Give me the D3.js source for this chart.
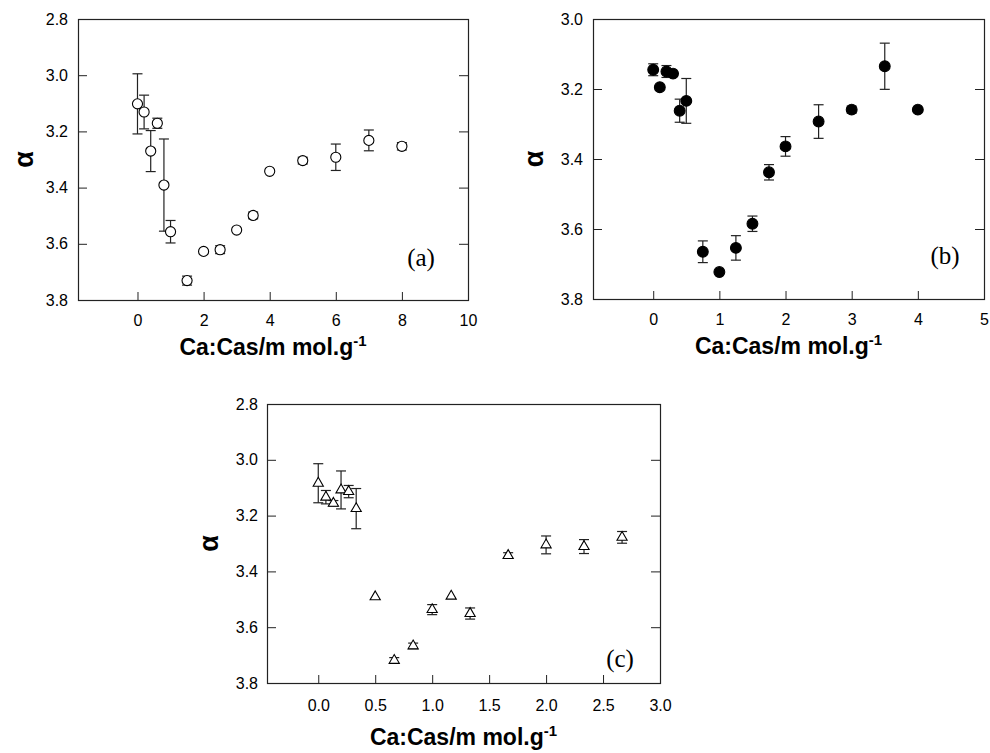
<!DOCTYPE html>
<html>
<head>
<meta charset="utf-8">
<script src="https://cdn.jsdelivr.net/npm/d3@7"></script>
<style>
  body { margin: 0; background: #fff; }
  svg { display: block; }
  .tick text { font-family: "Liberation Sans", Arial, sans-serif; font-size: 16px; fill: #000; }
  .tick line { stroke: #222; }
  .axisTitle { font-family: "Liberation Sans", Arial, sans-serif; font-weight: bold; font-size: 23px; fill: #000; }
  .alphaTitle { font-family: "Liberation Sans", Arial, sans-serif; font-weight: bold; font-size: 27px; fill: #000; }
  .panelTag { font-family: "Liberation Serif", "Times New Roman", serif; font-size: 25px; fill: #000; }
</style>
</head>
<body>
<div class="chart"></div>
<script>
// Panel (a): open circles
var aX = [0, 0.2, 0.4, 0.6, 0.8, 1.0, 1.5, 2, 2.5, 3, 3.5, 4, 5, 6, 7, 8];
var aY = [3.102, 3.131, 3.270, 3.171, 3.391, 3.557, 3.731, 3.627, 3.621, 3.551, 3.499, 3.342, 3.304, 3.292, 3.232, 3.253];
var aErr = [0.107, 0.06, 0.073, 0.018, 0.164, 0.04, 0.016, 0, 0.014, 0, 0.012, 0, 0.012, 0.047, 0.037, 0.013];

// Panel (b): filled circles
var bX = [0, 0.1, 0.2, 0.3, 0.4, 0.5, 0.75, 1.0, 1.25, 1.5, 1.75, 2, 2.5, 3, 3.5, 4];
var bY = [3.145, 3.195, 3.150, 3.156, 3.262, 3.234, 3.665, 3.723, 3.654, 3.585, 3.438, 3.364, 3.293, 3.259, 3.135, 3.259];
var bErr = [0.017, 0, 0.017, 0, 0.033, 0.064, 0.031, 0, 0.035, 0.022, 0.022, 0.028, 0.048, 0.01, 0.066, 0];

// Panel (c): open triangles
var cX = [0, 0.067, 0.133, 0.2, 0.267, 0.333, 0.5, 0.667, 0.833, 1.0, 1.167, 1.333, 1.667, 2.0, 2.333, 2.667];
var cY = [3.084, 3.134, 3.156, 3.108, 3.114, 3.175, 3.491, 3.719, 3.667, 3.537, 3.489, 3.551, 3.343, 3.305, 3.311, 3.278];
var cErr = [0.07, 0.024, 0.01, 0.068, 0.022, 0.072, 0, 0.01, 0.01, 0.018, 0, 0.02, 0.01, 0.032, 0.025, 0.021];

// tick values
var aXTicks = [0, 2, 4, 6, 8, 10];
var bXTicks = [0, 1, 2, 3, 4, 5];
var cXTicks = [0, 0.5, 1.0, 1.5, 2.0, 2.5, 3.0];
var yTicksFull = [2.8, 3.0, 3.2, 3.4, 3.6, 3.8];
var yTicksB = [3.0, 3.2, 3.4, 3.6, 3.8];

var xTitle = "Ca:Cas/m mol.g";
var yTitle = "\u03b1";

var svg = d3.select(".chart")
    .append("svg")
    .attr("width", 990)
    .attr("height", 753);

function drawPanel(p) {
    var w = p.right - p.left;
    var h = p.bottom - p.top;
    var g = svg.append("g").attr("transform", "translate(" + p.left + "," + p.top + ")");

    var x = d3.scaleLinear().domain(p.xDomain).range([0, w]);
    var y = d3.scaleLinear().domain(p.yDomain).range([0, h]);

    // axes, ticks pointing inside
    g.append("g")
        .attr("transform", "translate(0," + h + ")")
        .call(d3.axisBottom(x).tickValues(p.xTicks).tickSize(-8).tickPadding(p.xPad).tickFormat(d3.format(p.xFmt)))
        .call(function(s) { s.select(".domain").remove(); });
    g.append("g")
        .call(d3.axisLeft(y).tickValues(p.yTicks).tickSize(-9).tickPadding(p.yPad).tickFormat(d3.format(".1f")))
        .call(function(s) { s.select(".domain").remove(); });
    g.append("g")
        .attr("transform", "translate(" + w + ",0)")
        .call(d3.axisRight(y).tickValues(p.yTicks).tickSize(-9).tickFormat(""))
        .call(function(s) { s.select(".domain").remove(); });

    g.append("rect")
        .attr("x", 0.5).attr("y", 0.5)
        .attr("width", w).attr("height", h)
        .attr("fill", "none")
        .attr("stroke", "#222")
        .attr("stroke-width", 1.2);

    var data = p.xs.map(function(d, i) { return { x: d, y: p.ys[i], e: p.errs[i] }; });
    var withErr = data.filter(function(d) { return d.e > 0; });

    // error bars
    var eb = g.append("g").attr("stroke", "#222").attr("stroke-width", 1.2);
    eb.selectAll("line.v").data(withErr).enter().append("line")
        .attr("x1", function(d) { return x(d.x); })
        .attr("x2", function(d) { return x(d.x); })
        .attr("y1", function(d) { return y(d.y - d.e); })
        .attr("y2", function(d) { return y(d.y + d.e); });
    [-1, 1].forEach(function(sgn) {
        eb.selectAll("line.c" + (sgn + 1)).data(withErr).enter().append("line")
            .attr("x1", function(d) { return x(d.x) - 5; })
            .attr("x2", function(d) { return x(d.x) + 5; })
            .attr("y1", function(d) { return y(d.y + sgn * d.e); })
            .attr("y2", function(d) { return y(d.y + sgn * d.e); });
    });

    // markers
    g.selectAll("path.pt").data(data).enter().append("path")
        .attr("class", "pt")
        .attr("transform", function(d) { return "translate(" + x(d.x) + "," + y(d.y) + ")"; })
        .attr("d", d3.symbol().type(p.symbol).size(p.symSize))
        .attr("fill", p.fill)
        .attr("stroke", "#000")
        .attr("stroke-width", 1.1);

    // x title with superscript
    var t = g.append("text")
        .attr("class", "axisTitle")
        .attr("x", w / 2)
        .attr("y", h + p.titleDy)
        .attr("text-anchor", "middle");
    t.append("tspan").text(xTitle);
    t.append("tspan").attr("font-size", "15px").attr("dy", "-9").text("-1");

    g.append("text")
        .attr("class", "alphaTitle")
        .attr("transform", "translate(" + p.alphaX + "," + (h / 2) + ") rotate(-90)")
        .attr("text-anchor", "middle")
        .attr("dy", "0.3em")
        .text(yTitle);

    g.append("text")
        .attr("class", "panelTag")
        .attr("x", p.tagX)
        .attr("y", p.tagY)
        .attr("text-anchor", "middle")
        .text(p.tag);
}

drawPanel({
    left: 78, right: 468, top: 19, bottom: 300,
    xDomain: [-1.8, 10], yDomain: [2.8, 3.8],
    xTicks: aXTicks, yTicks: yTicksFull, xFmt: "d",
    xPad: 15, yPad: 10, titleDy: 55, alphaX: -53,
    xs: aX, ys: aY, errs: aErr,
    symbol: d3.symbolCircle, symSize: 80, fill: "#fff",
    tag: "(a)", tagX: 343, tagY: 247
});

drawPanel({
    left: 593, right: 984, top: 19, bottom: 299,
    xDomain: [-0.91, 5], yDomain: [3.0, 3.8],
    xTicks: bXTicks, yTicks: yTicksB, xFmt: "d",
    xPad: 15, yPad: 10, titleDy: 55, alphaX: -58,
    xs: bX, ys: bY, errs: bErr,
    symbol: d3.symbolCircle, symSize: 92, fill: "#000",
    tag: "(b)", tagX: 352, tagY: 245
});

drawPanel({
    left: 267, right: 660, top: 404, bottom: 683,
    xDomain: [-0.45, 3.0], yDomain: [2.8, 3.8],
    xTicks: cXTicks, yTicks: yTicksFull, xFmt: ".1f",
    xPad: 17, yPad: 9, titleDy: 62, alphaX: -57,
    xs: cX, ys: cY, errs: cErr,
    symbol: d3.symbolTriangle, symSize: 45, fill: "#fff",
    tag: "(c)", tagX: 353, tagY: 263
});
</script>
</body>
</html>
